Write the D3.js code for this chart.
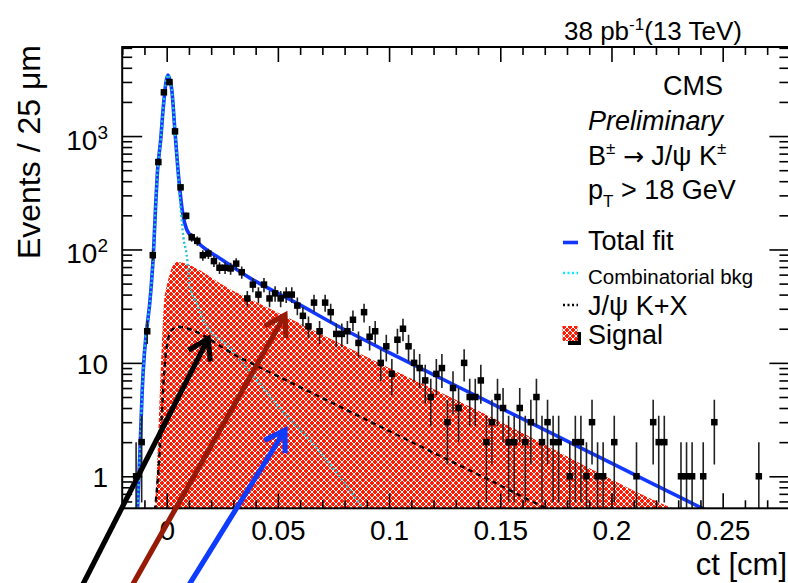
<!DOCTYPE html>
<html>
<head>
<meta charset="utf-8">
<script src="https://cdn.jsdelivr.net/npm/d3@7"></script>
<style>
body { margin: 0; background: #fff; }
text { font-family: "Liberation Sans", Arial, Helvetica, sans-serif; fill: #000; }
</style>
</head>
<body>
<div id="chart"></div>
<script>
"use strict";

// histogram: events per 25 um bin, first bin starts at ct = -0.02 cm
var binLow = -0.02, binWidth = 0.0025;
var counts = [
	0, 0, 1, 2, 19, 89, 590, 2430, 2990, 1100,
	353, 198, 128, 119, 89, 92, 79, 69, 69, 68,
	75, 63, 37, 49, 40, 49, 37, 41, 37, 40,
	40, 32, 26, 21, 34, 19, 34, 28, 18, 18,
	19, 24, 15, 28, 17, 19, 10, 14, 8, 16,
	20, 14, 10, 9, 7, 5, 8, 9, 3, 6,
	4, 10, 5, 5, 7, 2, 3, 5, 4, 2,
	2, 4, 2, 3, 5, 2, 3, 2, 2, 0,
	1, 2, 2, 1, 3, 1, 1, 0, 2, 0,
	0, 0, 1, 0, 0, 3, 2, 2, 0, 0,
	1, 1, 1, 0, 1, 0, 3, 0, 0, 0,
	0, 0, 0, 0, 1
];

// fit curves, [ct, events]
var totalFit = [
	[-0.0131, 0.52], [-0.0120, 1.7], [-0.0110, 5.7], [-0.0071, 43.8], [-0.0060, 89],
	[-0.0050, 235], [-0.0042, 470], [-0.0027, 924], [-0.0015, 1816], [0.0005, 3460],
	[0.0023, 2553], [0.0037, 1116], [0.0055, 410], [0.0072, 208], [0.0090, 150],
	[0.0120, 126], [0.0180, 99], [0.0240, 83.4], [0.0375, 55.9], [0.0585, 33.6],
	[0.0788, 20.2], [0.1005, 12.2], [0.1305, 6.22], [0.1605, 3.17], [0.1875, 1.73],
	[0.2175, 0.88], [0.2408, 0.522], [0.2450, 0.475]
];
var combBkg = [
	[-0.0131, 0.52], [-0.0120, 1.7], [-0.0110, 5.7], [-0.0071, 43.8], [-0.0060, 89],
	[-0.0050, 235], [-0.0042, 470], [-0.0027, 924], [-0.0015, 1816], [0.0005, 3460],
	[0.0023, 2553], [0.0037, 1116], [0.0050, 520], [0.0060, 273], [0.0075, 129],
	[0.0090, 89], [0.0098, 63], [0.0105, 47], [0.0135, 33.4], [0.0165, 23.8],
	[0.0285, 13.5], [0.0330, 10.6], [0.0510, 3.98], [0.0690, 1.63], [0.0825, 0.75],
	[0.0883, 0.52], [0.0920, 0.43]
];
var jpsiKX = [
	[-0.0053, 0.50], [-0.0037, 1.13], [-0.0023, 3.12], [-0.0012, 7.8], [0.0001, 14.3],
	[0.0015, 18.3], [0.0030, 20.0], [0.0046, 20.8], [0.0330, 11.1], [0.0750, 4.38],
	[0.1155, 1.78], [0.1455, 0.92], [0.1710, 0.52], [0.1740, 0.49]
];
var signal = [
	[-0.0053, 0.50], [-0.0044, 1.13], [-0.0032, 4.69], [-0.0021, 15.9], [-0.0011, 35.8],
	[0.0001, 48.5], [0.0015, 61.9], [0.0028, 72.1], [0.0042, 77.4], [0.0285, 44.7],
	[0.0585, 22.9], [0.1005, 8.92], [0.1305, 4.69], [0.1605, 2.38], [0.1875, 1.25],
	[0.2175, 0.636], [0.2295, 0.50]
];

// tick values
var xMajor = [0, 0.05, 0.1, 0.15, 0.2, 0.25];
var xMinor = [-0.02, -0.01, 0.01, 0.02, 0.03, 0.04, 0.06, 0.07, 0.08, 0.09, 0.11, 0.12, 0.13, 0.14,
	0.16, 0.17, 0.18, 0.19, 0.21, 0.22, 0.23, 0.24, 0.26, 0.27];
var xLabels = ["0", "0.05", "0.1", "0.15", "0.2", "0.25"];
var yMajor = [1, 10, 100, 1000];
var yMinor = [0.6, 0.7, 0.8, 0.9, 2, 3, 4, 5, 6, 7, 8, 9, 20, 30, 40, 50, 60, 70, 80, 90,
	200, 300, 400, 500, 600, 700, 800, 900, 2000, 3000, 4000, 5000, 6000];
var yLabels = [["1", ""], ["10", ""], ["10", "2"], ["10", "3"]];

// annotation arrows, in data coords (start below the axis)
var arrows = [
	{ from: [-0.0389, 0.1], to: [0.0187, 16.4], color: "#000000" },
	{ from: [-0.0166, 0.1], to: [0.0532, 26.4], color: "#971a06" },
	{ from: [0.0087, 0.1], to: [0.0532, 2.55], color: "#0d3cff" }
];

var W = 788, H = 583;
var frame = { left: 122.2, right: 789.4, top: 47, bottom: 508.3 };

var x = d3.scaleLinear().domain([-0.02, 0.28]).range([frame.left, frame.right]);
var y = d3.scaleLog().domain([0.522, 6100]).range([frame.bottom, frame.top]);

var svg = d3.select("#chart").append("svg")
	.attr("width", W).attr("height", H)
	.style("display", "block");

var defs = svg.append("defs");
defs.append("clipPath").attr("id", "plotclip")
	.append("rect")
	.attr("x", frame.left).attr("y", frame.top)
	.attr("width", frame.right - frame.left).attr("height", frame.bottom - frame.top);

// red / white hatch (ROOT-like)
var pat = defs.append("pattern").attr("id", "hatch")
	.attr("patternUnits", "userSpaceOnUse")
	.attr("width", 6).attr("height", 6);
pat.append("rect").attr("width", 6).attr("height", 6).attr("fill", "#ff1c04");
pat.append("path")
	.attr("d", "M0,6L6,0M-1,1L1,-1M5,7L7,5M0,0L6,6M-1,5L1,7M5,-1L7,1")
	.attr("stroke", "#fff").attr("stroke-width", 1.0);

var plot = svg.append("g").attr("clip-path", "url(#plotclip)");

// signal area
var area = d3.area()
	.x(function (d) { return x(d[0]); })
	.y0(frame.bottom + 5)
	.y1(function (d) { return y(d[1]); })
	.curve(d3.curveMonotoneX);
plot.append("path").datum(signal)
	.attr("d", area)
	.attr("fill", "url(#hatch)");

var line = d3.line()
	.x(function (d) { return x(d[0]); })
	.y(function (d) { return y(d[1]); })
	.curve(d3.curveMonotoneX);

plot.append("path").datum(totalFit)
	.attr("d", line).attr("fill", "none")
	.attr("stroke", "#1238ff").attr("stroke-width", 3.6);

plot.append("path").datum(combBkg)
	.attr("d", line).attr("fill", "none")
	.attr("stroke", "#22c6d2").attr("stroke-width", 2.4)
	.attr("stroke-dasharray", "2,2.5");

plot.append("path").datum(jpsiKX)
	.attr("d", line).attr("fill", "none")
	.attr("stroke", "#000").attr("stroke-width", 2.4)
	.attr("stroke-dasharray", "5,4");

// data points with sqrt(N) errors
var pts = counts.map(function (c, i) {
	return { x: binLow + (i + 0.5) * binWidth, n: c };
}).filter(function (d) { return d.n > 0; });

var pg = plot.append("g");
pg.selectAll("line.ey").data(pts).enter().append("line")
	.attr("class", "ey")
	.attr("x1", function (d) { return x(d.x); })
	.attr("x2", function (d) { return x(d.x); })
	.attr("y1", function (d) { return y(d.n + Math.sqrt(d.n)); })
	.attr("y2", function (d) {
		var lo = d.n - Math.sqrt(d.n);
		return lo > 0 ? y(lo) : frame.bottom + 5;
	})
	.attr("stroke", "#222").attr("stroke-width", 1.6);
pg.selectAll("line.ex").data(pts).enter().append("line")
	.attr("class", "ex")
	.attr("x1", function (d) { return x(d.x - binWidth / 2); })
	.attr("x2", function (d) { return x(d.x + binWidth / 2); })
	.attr("y1", function (d) { return y(d.n); })
	.attr("y2", function (d) { return y(d.n); })
	.attr("stroke", "#222").attr("stroke-width", 1.6);
pg.selectAll("rect").data(pts).enter().append("rect")
	.attr("x", function (d) { return x(d.x) - 3.25; })
	.attr("y", function (d) { return y(d.n) - 3.25; })
	.attr("width", 6.5).attr("height", 6.5)
	.attr("fill", "#000");

// axes (ROOT style, ticks inside)
function strip(g) {
	g.select(".domain").remove();
	g.selectAll("line").attr("stroke", "#000").attr("stroke-width", 1.6);
}
svg.append("g").attr("transform", "translate(0," + frame.bottom + ")")
	.call(d3.axisBottom(x).tickValues(xMajor).tickSize(-15).tickPadding(12)
		.tickFormat(function (d, i) { return xLabels[i]; }))
	.call(strip)
	.call(function (g) {
		g.selectAll("text").attr("font-size", 28).attr("font-family", null);
	});
svg.append("g").attr("transform", "translate(0," + frame.bottom + ")")
	.call(d3.axisBottom(x).tickValues(xMinor).tickSize(-8).tickFormat(""))
	.call(strip);
svg.append("g").attr("transform", "translate(0," + frame.top + ")")
	.call(d3.axisTop(x).tickValues(xMajor).tickSize(-15).tickFormat(""))
	.call(strip);
svg.append("g").attr("transform", "translate(0," + frame.top + ")")
	.call(d3.axisTop(x).tickValues(xMinor).tickSize(-8).tickFormat(""))
	.call(strip);

svg.append("g").attr("transform", "translate(" + frame.left + ",0)")
	.call(d3.axisLeft(y).tickValues(yMajor).tickSize(-20).tickFormat(""))
	.call(strip);
svg.append("g").attr("transform", "translate(" + frame.left + ",0)")
	.call(d3.axisLeft(y).tickValues(yMinor).tickSize(-10).tickFormat(""))
	.call(strip);
svg.append("g").attr("transform", "translate(" + frame.right + ",0)")
	.call(d3.axisRight(y).tickValues(yMajor).tickSize(-20).tickFormat(""))
	.call(strip);
svg.append("g").attr("transform", "translate(" + frame.right + ",0)")
	.call(d3.axisRight(y).tickValues(yMinor).tickSize(-10).tickFormat(""))
	.call(strip);

// y tick labels with exponents
yMajor.forEach(function (v, i) {
	var lab = yLabels[i];
	var t = svg.append("text")
		.attr("x", 108)
		.attr("y", y(v) + (lab[1] ? 14 : 11))
		.attr("text-anchor", "end")
		.attr("font-size", 28)
		.text(lab[0]);
	if (lab[1]) {
		t.append("tspan").attr("font-size", 19).attr("dy", -11).text(lab[1]);
	}
});

// frame
svg.append("rect")
	.attr("x", frame.left).attr("y", frame.top)
	.attr("width", frame.right - frame.left).attr("height", frame.bottom - frame.top)
	.attr("fill", "none").attr("stroke", "#000").attr("stroke-width", 2);

// axis titles
svg.append("text")
	.attr("transform", "translate(39.5," + (frame.top - 2) + ") rotate(-90)")
	.attr("text-anchor", "end")
	.attr("font-size", 32)
	.text("Events / 25 \u03bcm");
svg.append("text")
	.attr("x", 787).attr("y", 575)
	.attr("text-anchor", "end")
	.attr("font-size", 31)
	.text("ct [cm]");

// lumi label
var lumi = svg.append("text").attr("x", 742).attr("y", 40)
	.attr("text-anchor", "end").attr("font-size", 26);
lumi.append("tspan").text("38 pb");
lumi.append("tspan").attr("font-size", 17).attr("dy", -10).text("-1");
lumi.append("tspan").attr("dy", 10).text("(13 TeV)");

// CMS block
svg.append("text").attr("x", 723).attr("y", 95)
	.attr("text-anchor", "end").attr("font-size", 27).text("CMS");
svg.append("text").attr("x", 588).attr("y", 130)
	.attr("font-size", 27).attr("font-style", "italic").text("Preliminary");
var dec = svg.append("text").attr("x", 588).attr("y", 165).attr("font-size", 27);
dec.append("tspan").text("B");
dec.append("tspan").attr("font-size", 17).attr("dy", -11).text("\u00b1");
dec.append("tspan").attr("dy", 11).text(" ");
dec.append("tspan").attr("font-family", "DejaVu Sans").attr("font-size", 25).text("\u2192");
dec.append("tspan").text(" J/\u03c8 K");
dec.append("tspan").attr("font-size", 17).attr("dy", -11).text("\u00b1");
var cut = svg.append("text").attr("x", 588).attr("y", 199).attr("font-size", 27);
cut.append("tspan").text("p");
cut.append("tspan").attr("font-size", 17).attr("dy", 8).text("T");
cut.append("tspan").attr("dy", -8).text(" > 18 GeV");

// legend
var leg = svg.append("g");
leg.append("line").attr("x1", 563).attr("x2", 578).attr("y1", 242.5).attr("y2", 242.5)
	.attr("stroke", "#1238ff").attr("stroke-width", 3.6);
leg.append("text").attr("x", 588).attr("y", 249.5).attr("font-size", 27).text("Total fit");
leg.append("line").attr("x1", 563).attr("x2", 578).attr("y1", 273).attr("y2", 273)
	.attr("stroke", "#00f0ff").attr("stroke-width", 2.4).attr("stroke-dasharray", "2,2.5");
leg.append("text").attr("x", 588).attr("y", 283.5).attr("font-size", 20.5).text("Combinatorial bkg");
leg.append("line").attr("x1", 563).attr("x2", 578).attr("y1", 305).attr("y2", 305)
	.attr("stroke", "#000").attr("stroke-width", 2.4).attr("stroke-dasharray", "2,2.5");
leg.append("text").attr("x", 588).attr("y", 315).attr("font-size", 27).text("J/\u03c8 K+X");
leg.append("rect").attr("x", 568).attr("y", 332).attr("width", 13).attr("height", 13).attr("fill", "#000");
leg.append("rect").attr("x", 562.5).attr("y", 326).attr("width", 15).attr("height", 15).attr("fill", "url(#hatch)");
leg.append("text").attr("x", 588).attr("y", 343.5).attr("font-size", 27).text("Signal");

// arrows
var wingLen = 23, wingAng = 32 * Math.PI / 180;
arrows.forEach(function (a) {
	var x0 = x(a.from[0]), y0 = y(a.from[1]);
	var x1 = x(a.to[0]), y1 = y(a.to[1]);
	var len = Math.hypot(x1 - x0, y1 - y0);
	var bx = (x0 - x1) / len, by = (y0 - y1) / len;
	function wing(s) {
		var c = Math.cos(s * wingAng), sn = Math.sin(s * wingAng);
		return [x1 + wingLen * (bx * c - by * sn), y1 + wingLen * (bx * sn + by * c)];
	}
	var w1 = wing(1), w2 = wing(-1);
	svg.append("line")
		.attr("x1", x0).attr("y1", y0).attr("x2", x1 + bx * 2).attr("y2", y1 + by * 2)
		.attr("stroke", a.color).attr("stroke-width", 5.2);
	svg.append("path")
		.attr("d", "M" + w1[0] + "," + w1[1] + "L" + x1 + "," + y1 + "L" + w2[0] + "," + w2[1])
		.attr("fill", "none").attr("stroke", a.color).attr("stroke-width", 5.2)
		.attr("stroke-linejoin", "miter");
});
</script>
</body>
</html>
